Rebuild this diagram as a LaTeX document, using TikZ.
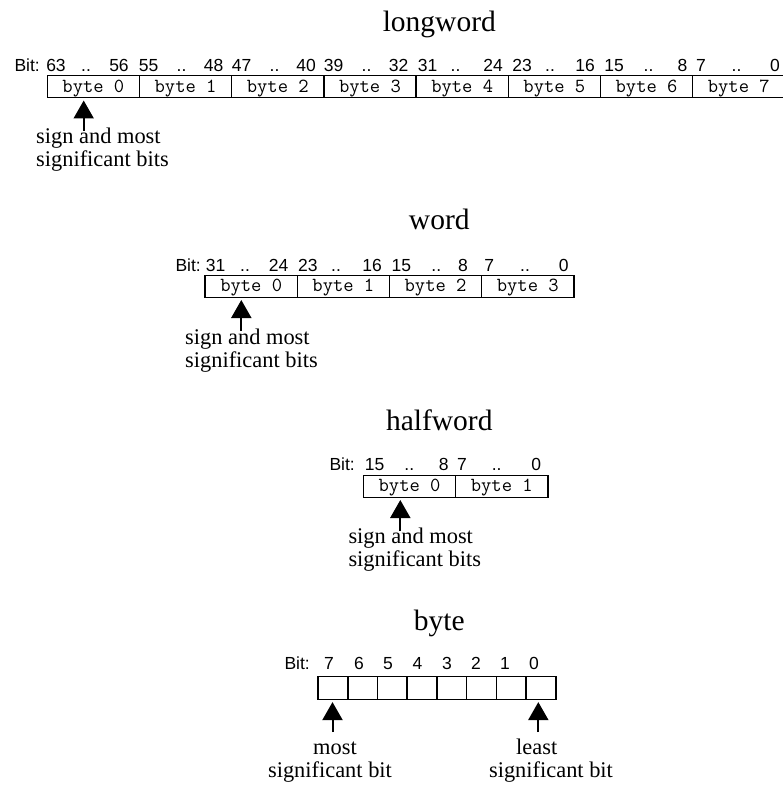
\documentclass[tikz,border=0pt]{standalone}
\usepackage{fontspec}
\setmainfont{Liberation Serif}
\newfontfamily\bitfamily{Liberation Sans}
\usetikzlibrary{arrows.meta}
\tikzset{
  cellbox/.style={draw, line width=1.5pt, minimum width=92.2pt, minimum height=22pt,
    inner sep=0pt, anchor=north west, text height=14pt, text depth=3pt,
    font=\ttfamily\fontsize{20}{20}\selectfont},
  bitcell/.style={draw, line width=1.6pt, minimum width=29.7pt, minimum height=23pt,
    inner sep=0pt, anchor=north west},
  bitlab/.style={anchor=base, inner sep=0pt, font=\bitfamily\fontsize{17.5}{17.5}\selectfont},
  titlelab/.style={anchor=base, inner sep=0pt, font=\fontsize{29.5}{30}\selectfont},
  bodylab/.style={inner sep=0pt, font=\fontsize{22.4}{23}\selectfont},
  ptr/.style={line width=2pt, -{Triangle[width=20pt,length=18pt]}, shorten >=2pt},
}
\begin{document}
\begin{tikzpicture}[x=1pt,y=-1pt]
\useasboundingbox (0,0) rectangle (783,786);

% ---------------- longword ----------------
\node[titlelab] (tlong) at (439.3,31.7) {longword};
\foreach \i in {0,...,7}
  \node[cellbox] (L\i) at ({46.5+92.2*\i},75) {byte \i};
\node[bitlab, anchor=base east] (lbit) at (40,71.5) {Bit:};
\foreach \x/\t [count=\k] in {56/63,86/..,119/56,148.5/55,181.5/..,213.5/48,241.5/47,274.5/..,306/40,
  333.5/39,366.5/..,398.5/32,427.5/31,455.5/..,493/24,522/23,550/..,585/16,614/15,648.5/..,682.5/8,701/7,736.5/..,775/0}
  \node[bitlab] (lb\k) at (\x,71.5) {\t};
\coordinate (la) at (83.7,131);
\draw[ptr] (la) -- (la |- L0.south);
\node[bodylab, anchor=base west] (ltx1) at (36,144) {sign and most};
\node[bodylab, anchor=base west] (ltx2) at (36,167) {significant bits};

% ---------------- word ----------------
\node[titlelab] (tword) at (439.3,229.3) {word};
\foreach \i in {0,...,3}
  \node[cellbox] (W\i) at ({204.3+92.2*\i},274.5) {byte \i};
\node[bitlab, anchor=base east] (wbit) at (201,271.5) {Bit:};
\foreach \x/\t [count=\k] in {215.7/31,245/..,278.7/24,307.8/23,336/..,372/16,401.3/15,436.3/..,463/8,489.2/7,525/..,563.7/0}
  \node[bitlab] (wb\k) at (\x,271.5) {\t};
\coordinate (wa) at (241.3,331);
\draw[ptr] (wa) -- (wa |- W0.south);
\node[bodylab, anchor=base west] (wtx1) at (185,344) {sign and most};
\node[bodylab, anchor=base west] (wtx2) at (185,367) {significant bits};

% ---------------- halfword ----------------
\node[titlelab] (thalf) at (439.3,430) {halfword};
\foreach \i in {0,1}
  \node[cellbox] (H\i) at ({362.7+92.2*\i},474.5) {byte \i};
\node[bitlab, anchor=base east] (hbit) at (355,470.5) {Bit:};
\foreach \x/\t [count=\k] in {374.7/15,409.3/..,443.7/8,462/7,496.7/..,536.2/0}
  \node[bitlab] (hb\k) at (\x,470.5) {\t};
\coordinate (ha) at (400.3,531);
\draw[ptr] (ha) -- (ha |- H0.south);
\node[bodylab, anchor=base west] (htx1) at (348.3,543.5) {sign and most};
\node[bodylab, anchor=base west] (htx2) at (348.3,566.5) {significant bits};

% ---------------- byte ----------------
\node[titlelab] (tbyte) at (439.3,630) {byte};
\foreach \i in {0,...,7}
  \node[bitcell] (B\i) at ({317.3+29.7*\i},675.5) {};
\node[bitlab, anchor=base east] (bbit) at (310,669.5) {Bit:};
\foreach \x/\t [count=\k] in {329/7,359/6,388/5,417.5/4,447/3,476/2,505/1,534/0}
  \node[bitlab] (bb\k) at (\x,669.5) {\t};
\coordinate (bam) at (332.5,732);
\coordinate (bal) at (538.3,732);
\draw[ptr] (bam) -- (bam |- B0.south);
\draw[ptr] (bal) -- (bal |- B7.south);
\node[bodylab, anchor=base] (mtx1) at (335,754) {most};
\node[bodylab, anchor=base] (mtx2) at (330,777) {significant bit};
\node[bodylab, anchor=base] (stx1) at (536.7,754) {least};
\node[bodylab, anchor=base] (stx2) at (551,777) {significant bit};
\end{tikzpicture}
\end{document}
